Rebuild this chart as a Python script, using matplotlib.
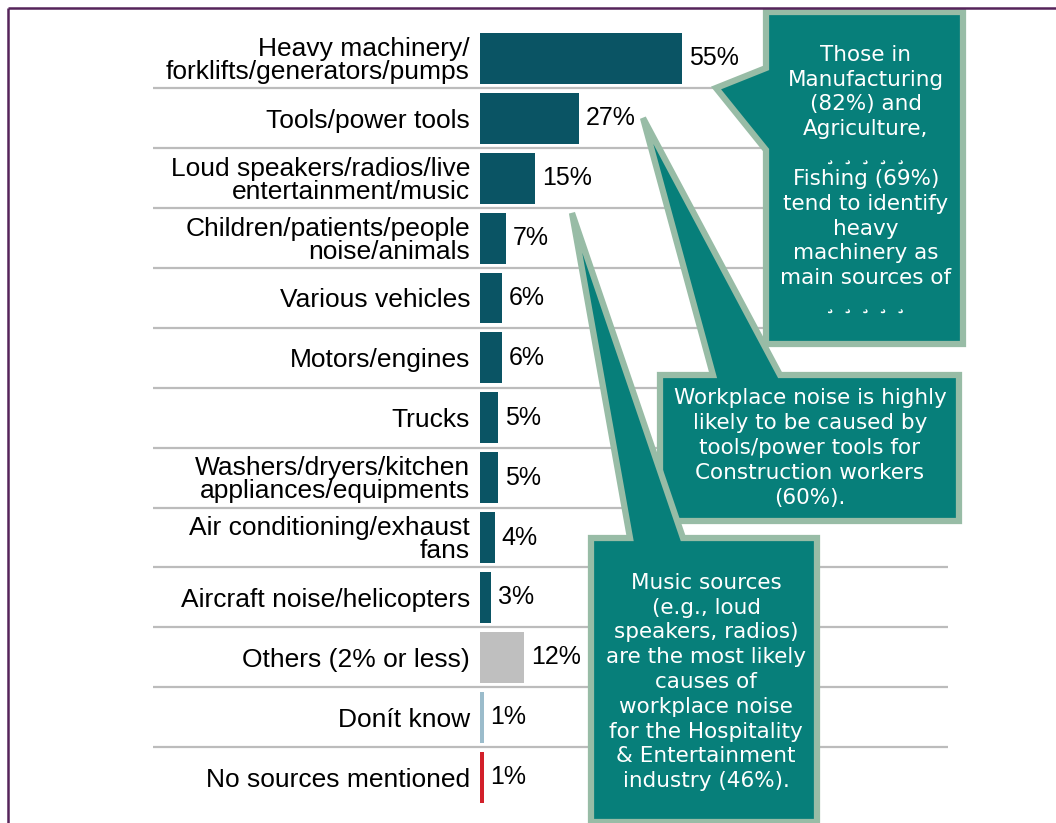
import matplotlib
matplotlib.use("Agg")
import matplotlib.pyplot as plt
from matplotlib.patches import Polygon

labels = ["Heavy machinery/\nforklifts/generators/pumps", "Tools/power tools",
          "Loud speakers/radios/live\nentertainment/music",
          "Children/patients/people\nnoise/animals", "Various vehicles",
          "Motors/engines", "Trucks", "Washers/dryers/kitchen\nappliances/equipments",
          "Air conditioning/exhaust\nfans", "Aircraft noise/helicopters",
          "Others (2% or less)", "Donít know", "No sources mentioned"]
values = [55, 27, 15, 7, 6, 6, 5, 5, 4, 3, 12, 1, 1]
colors = ["#0a5464"] * 10 + ["#bfbfbf", "#9bbccb", "#d2202a"]

note1 = ("Those in\nManufacturing\n(82%) and\nAgriculture,\n¸ ¸ ¸ ¸ ¸\nFishing (69%)\n"
         "tend to identify\nheavy\nmachinery as\nmain sources of\n¸ ¸ ¸ ¸ ¸")
note2 = ("Workplace noise is highly\nlikely to be caused by\ntools/power tools for\n"
         "Construction workers\n(60%).")
note3 = ("Music sources\n(e.g., loud\nspeakers, radios)\nare the most likely\ncauses of\n"
         "workplace noise\nfor the Hospitality\n& Entertainment\nindustry (46%).")

W, H = 1056, 823
fig = plt.figure(figsize=(W / 100, H / 100), dpi=100)
fig.patch.set_facecolor("white")

# main bar axes, placed in pixels
px = 3.673  # pixels per percent
ax = fig.add_axes([480 / W, (H - 807) / H, 150 * px / W, 778.5 / H])
y = list(range(len(values)))
ax.barh(y, values, height=0.85, color=colors, zorder=2)
ax.set_xlim(0, 150)
ax.set_ylim(len(values) - 0.5, -0.5)
ax.set_yticks(y)
ax.set_yticklabels(labels, fontsize=19, family="Liberation Sans", linespacing=0.95)
ax.tick_params(axis="y", length=0, pad=7.2)
ax.set_xticks([])
for s in ax.spines.values():
    s.set_visible(False)
ax.patch.set_alpha(0)

for i, v in enumerate(values):
    ax.annotate(f"{v}%", (v, i), xytext=(5, 0), textcoords="offset points",
                va="center", ha="left", fontsize=18, family="Liberation Sans")

x0 = (153 - 480) / px
x1 = (948 - 480) / px
for i in range(len(values) - 1):
    ax.plot([x0, x1], [i + 0.5, i + 0.5], color="#bcbcbc", lw=1.6,
            clip_on=False, zorder=1, solid_capstyle="butt")

# overlay in pixel coordinates for frame and callouts
ov = fig.add_axes([0, 0, 1, 1], zorder=5)
ov.set_xlim(0, W)
ov.set_ylim(H, 0)
ov.axis("off")
ov.patch.set_alpha(0)

ov.plot([8, W], [8, 8], color="#55245a", lw=1.8, solid_capstyle="butt")
ov.plot([8, 8], [8, H], color="#55245a", lw=1.8, solid_capstyle="butt")

teal = "#077f7a"
sage = "#98bca6"
shapes = [
    [(766, 12), (963, 12), (963, 344), (766, 344), (766, 150), (716, 88), (766, 68)],
    [(660, 375), (713, 375), (643, 118), (780, 375), (959, 375), (959, 521), (660, 521)],
    [(591, 538), (630, 538), (572, 213), (683, 538), (817, 538), (817, 822), (591, 822)],
]
for pts in shapes:
    ov.add_patch(Polygon(pts, closed=True, facecolor=teal, edgecolor=sage,
                         lw=4.5, joinstyle="miter"))

txt = dict(color="white", fontsize=15.5, family="DejaVu Sans", ha="center",
           va="center", multialignment="center", linespacing=1.3)
ov.text(866, 179, note1, **txt)
ov.text(810, 448, note2, **txt)
ov.text(706, 682, note3, **txt)

fig.savefig("out.png", dpi=100, facecolor="white")
